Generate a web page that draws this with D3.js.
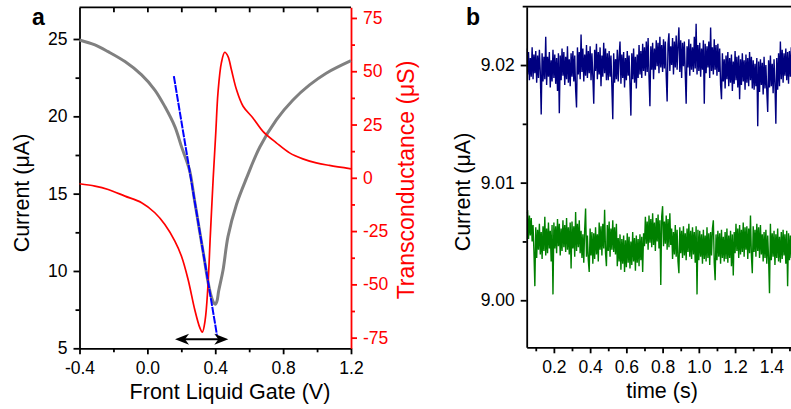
<!DOCTYPE html>
<html>
<head>
<meta charset="utf-8">
<script src="https://cdn.jsdelivr.net/npm/d3@7"></script>
<style>
  html, body { margin: 0; padding: 0; background: #fff; }
  svg { display: block; font-family: "Liberation Sans", Arial, sans-serif; }
</style>
</head>
<body>
<svg id="chart" width="791" height="409"></svg>
<script>
// ---------- Panel a: transfer curve and transconductance ----------
const gateVoltage = [-0.4, -0.309, -0.231, -0.132, -0.034, 0.044, 0.103, 0.162, 0.201, 0.248, 0.2775, 0.309, 0.33, 0.359, 0.374, 0.388, 0.4, 0.41, 0.42, 0.446, 0.475, 0.525, 0.584, 0.662, 0.76, 0.858, 0.956, 1.054, 1.2];
const drainCurrent = [24.94, 24.62, 24.18, 23.54, 22.68, 21.7, 20.63, 19.33, 18.04, 16.53, 14.59, 12.5, 11.14, 9.2, 8.45, 8.0, 7.85, 8.05, 8.7, 10.06, 12.22, 14.3, 16.0, 18.0, 19.77, 21.06, 22.03, 22.79, 23.6];

const gmVoltage = [-0.4, -0.309, -0.231, -0.132, -0.034, 0.044, 0.103, 0.162, 0.201, 0.24, 0.279, 0.309, 0.324, 0.34, 0.356, 0.371, 0.388, 0.403, 0.416, 0.436, 0.456, 0.475, 0.495, 0.525, 0.564, 0.622, 0.681, 0.76, 0.838, 0.916, 0.995, 1.073, 1.2];
const transconductance = [-2.8, -3.9, -5.5, -8.6, -11.7, -16.4, -21.9, -29.7, -36.8, -47.7, -61.8, -70.3, -72.4, -67, -52, -27, 0, 21, 39.8, 53.9, 58.9, 57.0, 50.8, 41.4, 33.6, 28.1, 21.8, 16.4, 11.7, 8.9, 7.0, 5.8, 4.2];

// tangent to the steepest part of the transfer curve
const tangentVoltage = [0.156, 0.41];
const tangentCurrent = [22.6, 5.86];

// double-headed arrow marking the voltage window
const arrowVoltage = [0.163, 0.477];
const arrowCurrent = 5.58;

const currentTicksA = [5, 10, 15, 20, 25];
const gmTicks = [-75, -50, -25, 0, 25, 50, 75];
const gateTicks = [-0.4, 0.0, 0.4, 0.8, 1.2];

// ---------- Panel b: current vs time ----------
const sampleStart = 0.05;   // s
const sampleStep = 0.005;   // s
const traceHigh = [
9.0214,9.0192,9.0211,9.0187,9.0206,9.0190,9.0215,9.0188,9.0209,9.0193,
9.0212,9.0185,9.0208,9.0189,9.0213,9.0194,9.0158,9.0210,9.0186,9.0207,
9.0188,9.0224,9.0183,9.0207,9.0190,9.0211,9.0181,9.0204,9.0186,9.0213,
9.0189,9.0209,9.0184,9.0206,9.0178,9.0210,9.0159,9.0208,9.0187,9.0214,
9.0191,9.0211,9.0183,9.0207,9.0188,9.0216,9.0185,9.0205,9.0182,9.0210,
9.0190,9.0212,9.0186,9.0208,9.0179,9.0164,9.0215,9.0192,9.0211,9.0188,
9.0226,9.0194,9.0214,9.0186,9.0209,9.0191,9.0217,9.0189,9.0212,9.0193,
9.0216,9.0187,9.0210,9.0190,9.0167,9.0213,9.0195,9.0218,9.0188,9.0211,
9.0192,9.0215,9.0182,9.0208,9.0190,9.0219,9.0193,9.0214,9.0187,9.0210,
9.0187,9.0212,9.0190,9.0208,9.0182,9.0154,9.0210,9.0185,9.0205,9.0188,
9.0213,9.0186,9.0207,9.0220,9.0184,9.0209,9.0189,9.0211,9.0181,9.0206,
9.0187,9.0212,9.0191,9.0208,9.0183,9.0157,9.0210,9.0188,9.0214,9.0185,
9.0207,9.0180,9.0209,9.0189,9.0217,9.0192,9.0212,9.0189,9.0218,9.0195,
9.0215,9.0191,9.0220,9.0194,9.0223,9.0190,9.0165,9.0216,9.0196,9.0219,
9.0188,9.0214,9.0196,9.0221,9.0199,9.0219,9.0193,9.0224,9.0198,9.0217,
9.0194,9.0222,9.0197,9.0220,9.0191,9.0169,9.0218,9.0227,9.0195,9.0216,
9.0200,9.0223,9.0192,9.0220,9.0198,9.0225,9.0196,9.0217,9.0232,9.0194,
9.0221,9.0189,9.0219,9.0199,9.0220,9.0193,9.0167,9.0216,9.0198,9.0222,
9.0191,9.0218,9.0196,9.0215,9.0194,9.0224,9.0197,9.0235,9.0192,9.0217,
9.0195,9.0219,9.0190,9.0214,9.0196,9.0221,9.0167,9.0218,9.0193,9.0216,
9.0198,9.0220,9.0189,9.0232,9.0195,9.0215,9.0192,9.0222,9.0196,9.0217,
9.0191,9.0218,9.0194,9.0214,9.0183,9.0171,9.0210,9.0186,9.0205,9.0180,
9.0208,9.0188,9.0211,9.0182,9.0206,9.0185,9.0209,9.0178,9.0203,9.0184,
9.0212,9.0187,9.0207,9.0181,9.0208,9.0171,9.0205,9.0183,9.0210,9.0186,
9.0204,9.0179,9.0209,9.0185,9.0206,9.0182,9.0211,9.0187,9.0207,9.0180,
9.0204,9.0179,9.0201,9.0182,9.0206,9.0148,9.0203,9.0177,9.0205,9.0183,
9.0202,9.0175,9.0207,9.0180,9.0200,9.0178,9.0160,9.0204,9.0181,9.0208,
9.0182,9.0201,9.0176,9.0205,9.0184,9.0150,9.0206,9.0179,9.0210,9.0182,
9.0220,9.0188,9.0213,9.0185,9.0210,9.0191,9.0214,9.0187,9.0211,9.0184,
9.0212,9.0190,9.0215,9.0188
];
const traceLow = [
9.0074,9.0075,9.0052,9.0072,9.0055,9.0070,9.0050,9.0064,9.0041,9.0012,
9.0062,9.0036,9.0060,9.0043,9.0065,9.0039,9.0058,9.0035,9.0063,9.0042,
9.0071,9.0038,9.0061,9.0040,9.0066,9.0044,9.0059,9.0033,9.0064,9.0005,
9.0066,9.0044,9.0063,9.0040,9.0069,9.0046,9.0065,9.0038,9.0061,9.0042,
9.0068,9.0045,9.0064,9.0041,9.0070,9.0043,9.0062,9.0039,9.0066,9.0027,
9.0067,9.0044,9.0063,9.0037,9.0075,9.0042,9.0065,9.0045,9.0068,9.0040,
9.0059,9.0036,9.0056,9.0032,9.0060,9.0078,9.0037,9.0055,9.0034,9.0024,
9.0061,9.0038,9.0058,9.0031,9.0057,9.0035,9.0062,9.0039,9.0056,9.0033,
9.0066,9.0043,9.0063,9.0038,9.0065,9.0044,9.0077,9.0040,9.0029,9.0064,
9.0042,9.0067,9.0037,9.0061,9.0043,9.0068,9.0041,9.0062,9.0039,9.0065,
9.0029,9.0053,9.0033,9.0056,9.0026,9.0052,9.0031,9.0055,9.0024,9.0051,
9.0028,9.0057,9.0032,9.0054,9.0027,9.0050,9.0030,9.0058,9.0033,9.0053,
9.0025,9.0055,9.0032,9.0052,9.0029,9.0056,9.0034,9.0054,9.0024,9.0057,
9.0046,9.0071,9.0048,9.0067,9.0043,9.0072,9.0049,9.0069,9.0045,9.0074,
9.0047,9.0066,9.0042,9.0070,9.0050,9.0073,9.0044,9.0068,9.0013,9.0071,
9.0080,9.0046,9.0067,9.0048,9.0072,9.0043,9.0069,9.0045,9.0074,9.0047,
9.0061,9.0035,9.0058,9.0039,9.0064,9.0037,9.0060,9.0033,9.0023,9.0062,
9.0040,9.0059,9.0036,9.0063,9.0038,9.0057,9.0034,9.0061,9.0041,9.0065,
9.0037,9.0059,9.0035,9.0062,9.0039,9.0058,9.0032,9.0063,9.0005,9.0060,
9.0034,9.0059,9.0037,9.0056,9.0031,9.0060,9.0035,9.0055,9.0033,9.0062,
9.0036,9.0057,9.0030,9.0058,9.0038,9.0061,9.0068,9.0032,9.0017,9.0056,
9.0034,9.0059,9.0037,9.0057,9.0031,9.0060,9.0036,9.0054,9.0033,9.0058,
9.0035,9.0061,9.0032,9.0055,9.0036,9.0059,9.0029,9.0056,9.0021,9.0058,
9.0040,9.0065,9.0042,9.0061,9.0036,9.0064,9.0039,9.0060,9.0041,9.0066,
9.0037,9.0062,9.0043,9.0063,9.0035,9.0061,9.0040,9.0072,9.0038,9.0023,
9.0063,9.0041,9.0060,9.0037,9.0065,9.0042,9.0062,9.0036,9.0064,9.0039,
9.0056,9.0033,9.0058,9.0036,9.0060,9.0031,9.0055,9.0035,9.0006,9.0065,
9.0034,9.0057,9.0037,9.0059,9.0030,9.0056,9.0036,9.0061,9.0033,9.0054,
9.0032,9.0058,9.0035,9.0060,9.0038,9.0056,9.0031,9.0059,9.0012,9.0057,
9.0034,9.0055,9.0036,9.0058
];
const currentTicksB = [9.00, 9.01, 9.02];
const timeTicks = [0.2, 0.4, 0.6, 0.8, 1.0, 1.2, 1.4];

const svg = d3.select("#chart");
const TICK_FONT = 17.5, TITLE_FONT = 21.5;

// ---------- scales ----------
const xA = d3.scaleLinear().domain([-0.4, 1.2]).range([79.5, 351]);
const yA = d3.scaleLinear().domain([5, 27.05]).range([348.3, 7.3]);
const gA = d3.scaleLinear().domain([-80, 80]).range([348.3, 7.3]);

const xB = d3.scaleLinear().domain([0.05, 1.55]).range([526.7, 798.5]);
const yB = d3.scaleLinear().domain([8.996, 9.02496]).range([347.3, 6.7]);

function styleAxis(g, color, width) {
  g.selectAll("path.domain").attr("stroke", color).attr("stroke-width", width);
  g.selectAll(".tick line").attr("stroke", color).attr("stroke-width", width);
  g.selectAll(".tick text").attr("fill", color).style("font-size", TICK_FONT + "px")
    .style("font-family", "'Liberation Sans', Arial, sans-serif");
}
function minorTicks(axisFn, scale, values, size, x, y, color, width) {
  const g = svg.append("g").attr("transform", `translate(${x},${y})`)
    .call(axisFn(scale).tickValues(values).tickSize(size).tickFormat(""));
  g.select("path.domain").remove();
  g.selectAll(".tick line").attr("stroke", color).attr("stroke-width", width);
  return g;
}

// ---------- panel a axes ----------
const AW = 1.8;
// top frame with inward ticks
svg.append("line").attr("x1", xA(-0.4)).attr("x2", xA(1.2)).attr("y1", yA.range()[1]).attr("y2", yA.range()[1])
  .attr("stroke", "#000").attr("stroke-width", AW);
minorTicks(d3.axisBottom, xA, [-0.2, 0.0, 0.2, 0.4, 0.6, 0.8, 1.0], 5, 0, yA.range()[1], "#000", AW);

const axA_left = svg.append("g").attr("transform", `translate(${xA(-0.4)},0)`)
  .call(d3.axisLeft(yA).tickValues(currentTicksA).tickSize(6).tickPadding(6).tickFormat(d3.format("d")).tickSizeOuter(0));
styleAxis(axA_left, "#000", AW);
minorTicks(d3.axisLeft, yA, [7.5, 12.5, 17.5, 22.5], 4, xA(-0.4), 0, "#000", AW);

const axA_bottom = svg.append("g").attr("transform", `translate(0,${yA(5)})`)
  .call(d3.axisBottom(xA).tickValues(gateTicks).tickSize(6).tickPadding(7).tickFormat(d => d.toFixed(1)).tickSizeOuter(0));
styleAxis(axA_bottom, "#000", AW);
minorTicks(d3.axisBottom, xA, [-0.2, 0.2, 0.6, 1.0], 4, 0, yA(5), "#000", AW);

const RED = "#ff0000";
const axA_right = svg.append("g").attr("transform", `translate(${xA(1.2)},0)`)
  .call(d3.axisRight(gA).tickValues(gmTicks).tickSize(6).tickPadding(6).tickFormat(d => String(d)).tickSizeOuter(0));
styleAxis(axA_right, RED, AW);
minorTicks(d3.axisRight, gA, [-62.5, -37.5, -12.5, 12.5, 37.5, 62.5], 4, xA(1.2), 0, RED, AW);

// ---------- panel a marks ----------
const transfer = gateVoltage.map((v, i) => [v, drainCurrent[i]]);
svg.append("path").datum(transfer)
  .attr("d", d3.line().x(d => xA(d[0])).y(d => yA(d[1])).curve(d3.curveCatmullRom.alpha(0.5)))
  .attr("fill", "none").attr("stroke", "#808080").attr("stroke-width", 3);

const gmData = gmVoltage.map((v, i) => [v, transconductance[i]]);
svg.append("path").datum(gmData)
  .attr("d", d3.line().x(d => xA(d[0])).y(d => gA(d[1])).curve(d3.curveCatmullRom.alpha(0.5)))
  .attr("fill", "none").attr("stroke", RED).attr("stroke-width", 1.7);

svg.append("line")
  .attr("x1", xA(tangentVoltage[0])).attr("y1", yA(tangentCurrent[0]))
  .attr("x2", xA(tangentVoltage[1])).attr("y2", yA(tangentCurrent[1]))
  .attr("stroke", "#0000ff").attr("stroke-width", 2).attr("stroke-dasharray", "8,1");

// arrow
const ax1 = xA(arrowVoltage[0]), ax2 = xA(arrowVoltage[1]), ay = yA(arrowCurrent);
svg.append("line").attr("x1", ax1 + 6).attr("x2", ax2 - 6).attr("y1", ay).attr("y2", ay)
  .attr("stroke", "#000").attr("stroke-width", 2);
svg.append("path")
  .attr("d", `M${ax2},${ay} L${ax2 - 14},${ay - 5.5} L${ax2 - 10},${ay} L${ax2 - 14},${ay + 5.5} Z`)
  .attr("fill", "#000");
svg.append("path")
  .attr("d", `M${ax1},${ay} L${ax1 + 14},${ay - 5.5} L${ax1 + 10},${ay} L${ax1 + 14},${ay + 5.5} Z`)
  .attr("fill", "#000");

// ---------- panel a titles ----------
svg.append("text").attr("x", 32).attr("y", 25).text("a")
  .style("font-size", "23px").style("font-weight", "bold");
svg.append("text").attr("transform", "translate(29,193) rotate(-90)").attr("text-anchor", "middle")
  .style("font-size", TITLE_FONT + "px").text("Current (μA)");
svg.append("text").attr("transform", "translate(414,180) rotate(-90)").attr("text-anchor", "middle")
  .style("font-size", "23px").attr("fill", RED).text("Transconductance (μS)");
svg.append("text").attr("x", 230).attr("y", 399).attr("text-anchor", "middle")
  .style("font-size", TITLE_FONT + "px").text("Front Liquid Gate (V)");

// ---------- panel b ----------
svg.append("defs").append("clipPath").attr("id", "clipB").append("rect")
  .attr("x", xB(0.05)).attr("y", yB.range()[1]).attr("width", 791 - xB(0.05)).attr("height", yB.range()[0] - yB.range()[1]);

const traceLine = d3.line().x((d, i) => xB(sampleStart + i * sampleStep)).y(d => yB(d));
svg.append("path").datum(traceHigh).attr("d", traceLine).attr("clip-path", "url(#clipB)")
  .attr("fill", "none").attr("stroke", "#000080").attr("stroke-width", 1.4);
svg.append("path").datum(traceLow).attr("d", traceLine).attr("clip-path", "url(#clipB)")
  .attr("fill", "none").attr("stroke", "#008000").attr("stroke-width", 1.4);

svg.append("line").attr("x1", xB(0.05) - 4).attr("x2", 791).attr("y1", yB.range()[1]).attr("y2", yB.range()[1])
  .attr("stroke", "#000").attr("stroke-width", AW);

const axB_left = svg.append("g").attr("transform", `translate(${xB(0.05)},0)`)
  .call(d3.axisLeft(yB).tickValues(currentTicksB).tickSize(6).tickPadding(6).tickFormat(d => d.toFixed(2)).tickSizeOuter(0));
styleAxis(axB_left, "#000", AW);
minorTicks(d3.axisLeft, yB, [9.005, 9.015], 4, xB(0.05), 0, "#000", AW);

const axB_bottom = svg.append("g").attr("transform", `translate(0,${yB.range()[0]})`)
  .call(d3.axisBottom(xB).tickValues(timeTicks).tickSize(6).tickPadding(7).tickFormat(d => d.toFixed(1)).tickSizeOuter(0));
styleAxis(axB_bottom, "#000", AW);
minorTicks(d3.axisBottom, xB, [0.1, 0.3, 0.5, 0.7, 0.9, 1.1, 1.3, 1.5], 4, 0, yB.range()[0], "#000", AW);

svg.append("text").attr("x", 466).attr("y", 25).text("b")
  .style("font-size", "23px").style("font-weight", "bold");
svg.append("text").attr("transform", "translate(470,192) rotate(-90)").attr("text-anchor", "middle")
  .style("font-size", TITLE_FONT + "px").text("Current (μA)");
svg.append("text").attr("x", 662).attr("y", 398).attr("text-anchor", "middle")
  .style("font-size", TITLE_FONT + "px").text("time (s)");
</script>
</body>
</html>
